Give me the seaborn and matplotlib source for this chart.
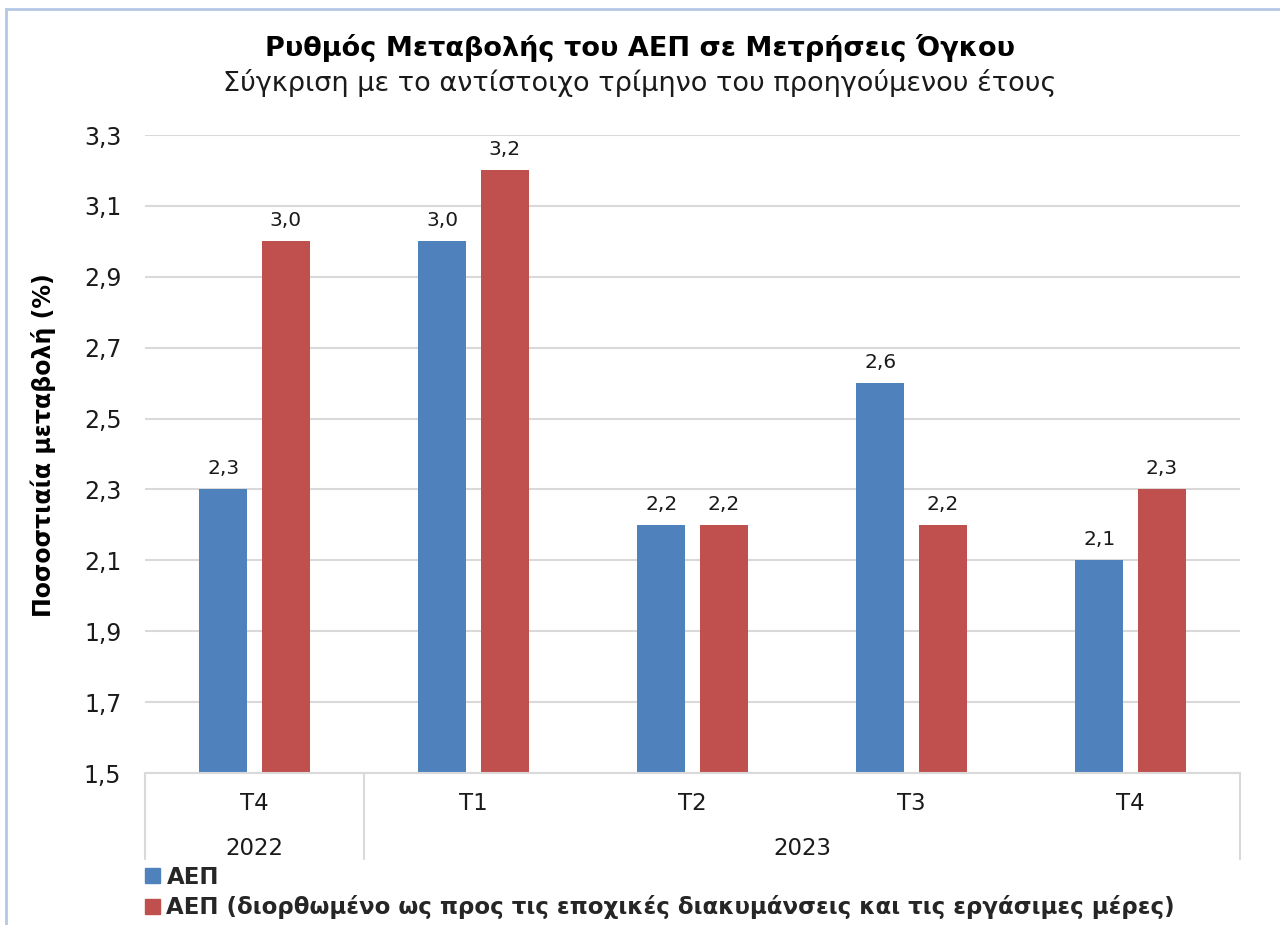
import matplotlib.pyplot as plt
import seaborn as sns
import pandas as pd
from matplotlib.patches import Rectangle

# ----- data -----
quarters = ['T4', 'T1', 'T2', 'T3', 'T4']
years = ['2022', '2023', '2023', '2023', '2023']
gdp = [2.3, 3.0, 2.2, 2.6, 2.1]
gdp_adj = [3.0, 3.2, 2.2, 2.2, 2.3]
series_names = ['ΑΕΠ', 'ΑΕΠ (διορθωμένο ως προς τις εποχικές διακυμάνσεις και τις εργάσιμες μέρες)']
yticks = [1.5, 1.7, 1.9, 2.1, 2.3, 2.5, 2.7, 2.9, 3.1, 3.3]

cats = [f'{y}-{q}' for y, q in zip(years, quarters)]
df = pd.DataFrame({
    'cat': cats * 2,
    'value': gdp + gdp_adj,
    'series': [series_names[0]] * 5 + [series_names[1]] * 5,
})

sns.set_style('white')
plt.rcParams['font.family'] = ['DejaVu Sans']
txt = '#1a1a1a'

fig = plt.figure(figsize=(12.8, 9.25), dpi=100)
ax = fig.add_axes([0.1133, 0.1643, 0.8555, 0.6897])

sns.barplot(data=df, x='cat', y='value', hue='series', order=cats,
            palette=['#4F81BD', '#C0504D'], width=0.57, gap=0.23,
            ax=ax, legend=False, saturation=1, linewidth=0)

for cont in ax.containers:
    labs = [f'{b.get_height():.1f}'.replace('.', ',') for b in cont]
    ax.bar_label(cont, labels=labs, padding=8, fontsize=14.5, color=txt)

ax.set_ylim(1.5, 3.3)
ax.set_xlim(-0.5, 4.5)
ax.set_yticks(yticks)
ax.set_yticklabels([f'{v:.1f}'.replace('.', ',') for v in yticks], fontsize=17, color=txt)
ax.tick_params(axis='y', length=0, pad=17)
ax.grid(axis='y', color='#D9D9D9', linewidth=1.5)
ax.set_axisbelow(True)
for s in ['top', 'right', 'left']:
    ax.spines[s].set_visible(False)
ax.spines['bottom'].set_color('#D9D9D9')
ax.spines['bottom'].set_linewidth(1.5)

# two-level category axis
ax.set_xticks(range(5))
ax.set_xticklabels(quarters, fontsize=16.5, color=txt)
ax.tick_params(axis='x', length=0, pad=14)
ax.set_xlabel('')
trans = ax.get_xaxis_transform()
ax.text(0, -0.118, '2022', transform=trans, ha='center', va='center', fontsize=16.5, color=txt)
ax.text(2.5, -0.118, '2023', transform=trans, ha='center', va='center', fontsize=16.5, color=txt)
for xs in [-0.5, 0.5, 4.5]:
    ax.plot([xs, xs], [0, -0.135], transform=trans, color='#D9D9D9', lw=1.5, clip_on=False)

ax.set_ylabel('Ποσοστιαία μεταβολή (%)', fontsize=17, fontweight='bold', color='black')
ax.yaxis.set_label_coords(-0.081, 0.514)

fig.text(0.5, 0.948, 'Ρυθμός Μεταβολής του ΑΕΠ σε Μετρήσεις Όγκου',
         ha='center', va='center', fontsize=19.5, fontweight='bold', color='black')
fig.text(0.5, 0.910, 'Σύγκριση με το αντίστοιχο τρίμηνο του προηγούμενου έτους',
         ha='center', va='center', fontsize=19.5, color=txt)

handles = [Rectangle((0, 0), 1, 1, color=c) for c in ['#4F81BD', '#C0504D']]
fig.legend(handles, series_names, loc='upper left', bbox_to_anchor=(0.113, 0.064),
           frameon=False, prop={'weight': 'bold', 'size': 16.5},
           handlelength=0.65, handleheight=0.65, handletextpad=0.3,
           labelspacing=0.28, borderaxespad=0, borderpad=0)

fig.patches.append(Rectangle((6 / 1280, -0.1), 1.2, 1.1 - 9 / 925,
                             transform=fig.transFigure, fill=False,
                             edgecolor='#B4C7E7', lw=2, clip_on=False))

fig.savefig('out.png', dpi=100, facecolor='white')
